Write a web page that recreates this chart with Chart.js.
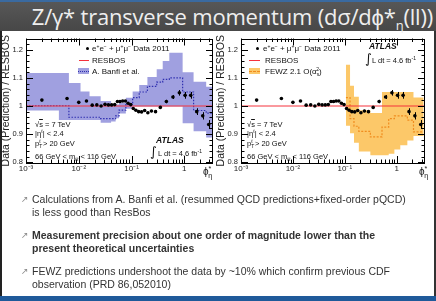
<!DOCTYPE html>
<html><head><meta charset="utf-8">
<script src="https://cdn.jsdelivr.net/npm/chart.js@4.4.1/dist/chart.umd.min.js"></script>
<style>
html,body{margin:0;padding:0;}
body{width:436px;height:301px;position:relative;overflow:hidden;background:#fff;font-family:"Liberation Sans",Arial,sans-serif;color:#111;}
#titlebar{position:absolute;left:0;top:0;width:436px;height:31px;background:linear-gradient(#575757,#474747);border-top:2px solid #3a6aa0;box-sizing:border-box;}
#title{position:absolute;right:3px;top:-1px;font-family:"Open Sans",sans-serif;font-size:22px;color:#eeeeee;white-space:nowrap;letter-spacing:-0.2px;}
#title sub{font-size:13px;vertical-align:-5px;}
.edgeL{position:absolute;left:0;top:31px;width:2px;height:270px;background:#222;}
.edgeR{position:absolute;right:0;top:31px;width:2px;height:270px;background:#333;}
.bottombar{position:absolute;left:0;top:296px;width:436px;height:5px;background:#1f5a9a;}
canvas{position:absolute;}
.t{position:absolute;font-size:7.5px;line-height:9px;white-space:nowrap;color:#111;}
.lg{font-size:8px;}
.t sup{font-size:5px;vertical-align:3px;line-height:0;}
.t sub{font-size:5px;vertical-align:-2px;line-height:0;}
.atlas{position:absolute;font-size:8.5px;font-weight:bold;font-style:italic;line-height:10px;}
.int{position:absolute;font-size:13px;line-height:13px;font-family:"DejaVu Sans",sans-serif;}
.dot{position:absolute;width:3.4px;height:3.4px;border-radius:50%;background:#000;}
.rline{position:absolute;height:1px;background:rgb(245,50,60);}
.box{position:absolute;height:6px;}
.box div{position:absolute;left:0;right:0;top:2.5px;border-top:1px dotted;}
.axl{position:absolute;font-size:10px;line-height:10px;}
.axl sup{font-size:7px;vertical-align:4px;line-height:0;}
.axl sub{font-size:7px;vertical-align:-3px;line-height:0;margin-left:-3px;}
.b{position:absolute;left:32px;font-size:10.5px;line-height:13px;color:#333;white-space:nowrap;}
.arr{position:absolute;left:21px;font-size:9px;color:#8a8a8a;font-family:"DejaVu Sans",sans-serif;}
</style></head>
<body>
<div id="titlebar"><div id="title">Z/γ* transverse momentum (dσ/dϕ*<sub>η</sub>(ll))</div></div>
<div class="edgeL"></div><div class="edgeR"></div><div class="bottombar"></div>

<canvas id="c1" width="218" height="150" style="left:0px;top:31px;width:218px;height:150px"></canvas>
<canvas id="c2" width="218" height="150" style="left:215px;top:31px;width:218px;height:150px"></canvas>

<!-- left plot overlays -->
<div class="dot" style="left:86px;top:46.5px"></div>
<div class="t lg" style="left:92px;top:44px">e<sup>+</sup>e<sup>−</sup> + μ<sup>+</sup>μ<sup>−</sup> Data 2011</div>
<div class="rline" style="left:79px;width:10px;top:60px"></div>
<div class="t lg" style="left:92px;top:55.5px">RESBOS</div>
<div class="box" style="left:78px;width:11px;top:68px;background:rgb(160,160,224)"><div style="border-color:#3030b0"></div></div>
<div class="t lg" style="left:92px;top:66.5px">A. Banfi et al.</div>
<div class="t" style="left:35px;top:120px">√<span style="text-decoration:overline">s</span> = 7 TeV</div>
<div class="t" style="left:35px;top:129px">|η<sup>ℓ</sup>| &lt; 2.4</div>
<div class="t" style="left:35px;top:139px">p<sub>T</sub><sup style="margin-left:-3px">ℓ</sup> &gt; 20 GeV</div>
<div class="t" style="left:35px;top:152px">66 GeV &lt; m<sub>ℓℓ</sub> &lt; 116 GeV</div>
<div class="atlas" style="left:156px;top:135px">ATLAS</div>
<div class="int" style="left:150px;top:145px">∫</div>
<div class="t" style="left:158px;top:149px">L dt = 4.6 fb<sup>-1</sup></div>
<div class="axl" style="left:203px;top:167px">ϕ<sup>*</sup><sub>η</sub></div>

<!-- right plot overlays -->
<div class="dot" style="left:256px;top:46.5px"></div>
<div class="t lg" style="left:263px;top:44px">e<sup>+</sup>e<sup>−</sup> + μ<sup>+</sup>μ<sup>−</sup> Data 2011</div>
<div class="rline" style="left:249px;width:11px;top:60px"></div>
<div class="t lg" style="left:265px;top:55.5px">RESBOS</div>
<div class="box" style="left:249px;width:11px;top:68px;background:rgb(252,200,105)"><div style="border-color:#f08c1e;border-top-style:dashed"></div></div>
<div class="t lg" style="left:265px;top:66.5px">FEWZ 2.1 O(α<sub>s</sub><sup style="margin-left:-3px">2</sup>)</div>
<div class="t" style="left:247px;top:120px">√<span style="text-decoration:overline">s</span> = 7 TeV</div>
<div class="t" style="left:247px;top:129px">|η<sup>ℓ</sup>| &lt; 2.4</div>
<div class="t" style="left:247px;top:139px">p<sub>T</sub><sup style="margin-left:-3px">ℓ</sup> &gt; 20 GeV</div>
<div class="t" style="left:247px;top:152px">66 GeV &lt; m<sub>ℓℓ</sub> &lt; 116 GeV</div>
<div class="atlas" style="left:369px;top:41px">ATLAS</div>
<div class="int" style="left:365px;top:52px">∫</div>
<div class="t" style="left:372px;top:56px">L dt = 4.6 fb<sup>-1</sup></div>
<div class="axl" style="left:419px;top:167px">ϕ<sup>*</sup><sub>η</sub></div>

<!-- bullets -->
<div class="arr" style="top:194px">↗</div>
<div class="b" style="top:193px">Calculations from A. Banfi et al. (resummed QCD predictions+fixed-order pQCD)</div>
<div class="b" style="top:206px">is less good than ResBos</div>
<div class="arr" style="top:230px">↗</div>
<div class="b" style="top:229px;font-weight:bold">Measurement precision about one order of magnitude lower than the</div>
<div class="b" style="top:242px;font-weight:bold">present theoretical uncertainties</div>
<div class="arr" style="top:266px">↗</div>
<div class="b" style="top:265px">FEWZ predictions undershoot the data by ~10% which confirm previous CDF</div>
<div class="b" style="top:278px">observation (PRD 86,052010)</div>

<script>
// ---- data ----
const phiStar = [0.002,0.006,0.010,0.014,0.018,0.022,0.0265,0.0315,0.0365,0.042,0.048,0.054,0.0605,0.068,0.0765,0.086,0.0965,0.108,0.121,0.1365,0.155,0.177,0.204,0.2385,0.285,0.3515,0.4575,0.6095,0.8065,1.0355,1.3245,1.7215,2.2345,2.8995];
const dataRatio = [1.021,1.027,1.013,1.018,1.003,1.004,1.000,1.006,1.004,1.004,1.005,1.016,1.016,1.018,1.018,1.010,1.005,0.991,0.985,0.980,0.979,0.984,0.976,0.982,0.980,0.995,1.016,1.032,1.047,1.038,1.038,0.980,0.965,0.934];
const dataErr = [0.003,0.003,0.003,0.003,0.003,0.003,0.003,0.003,0.003,0.003,0.003,0.003,0.003,0.003,0.003,0.003,0.003,0.003,0.003,0.003,0.003,0.004,0.004,0.004,0.005,0.005,0.006,0.007,0.010,0.012,0.012,0.012,0.013,0.016];

const banfiEdges = [0.001,0.0042,0.0065,0.0108,0.016,0.026,0.041,0.05,0.058,0.078,0.105,0.14,0.2,0.3,0.39,0.52,0.93,1.5,2.6,3.5];
const banfiHigh = [1.118,1.118,1.082,1.052,1.035,1.018,1.002,1.005,1.012,1.029,1.052,1.075,1.103,1.131,1.160,1.190,1.120,1.086,1.069];
const banfiLow  = [0.984,0.950,0.950,0.950,0.950,0.940,0.945,0.956,0.973,0.990,0.998,0.998,0.998,0.998,0.998,0.998,0.939,0.910,0.888];
const banfiMid  = [1.001,1.001,0.960,0.960,0.960,0.955,0.955,0.965,0.985,1.005,1.030,1.050,1.070,1.085,1.095,1.100,1.050,0.984,0.975];

const fewzEdges = [0.105,0.126,0.15,0.186,0.31,0.52,0.7,0.9,1.17,1.6,2.1,3.3];
const fewzHigh = [1.147,1.072,1.033,0.985,0.975,1.050,1.050,1.050,1.050,1.050,1.030];
const fewzLow  = [0.930,0.903,0.869,0.838,0.825,0.825,0.830,0.845,0.860,0.877,0.893];
const fewzMid  = [1.030,0.955,0.928,0.910,0.890,0.925,0.955,0.965,0.965,0.950,0.908];

const resbosRatio = [1,1];
const xTickValues = [0.001,0.01,0.1,1];
const xTickLabels = ['10⁻³','10⁻²','10⁻¹','1'];
const yTickValues = [0.8,0.9,1.0,1.1,1.2];
const yTickLabels = ['0.8','0.9','1','1.1','1.2'];
const xRange = [0.001,3.5];
const yRange = [0.797,1.2405];

// ---- helpers ----
function steps(edges, vals){
  return edges.map((x,i)=>({x, y: vals[Math.min(i, vals.length-1)]}));
}

const atlasFrame = {
  id:'atlasFrame',
  afterDatasetsDraw(chart){
    const {ctx, chartArea:a, scales:{x,y}} = chart;
    ctx.save();
    ctx.strokeStyle='#000'; ctx.lineWidth=1;
    ctx.beginPath();
    phiStar.forEach((p,i)=>{
      const px = Math.round(x.getPixelForValue(p))+0.5;
      ctx.moveTo(px, y.getPixelForValue(dataRatio[i]-dataErr[i]));
      ctx.lineTo(px, y.getPixelForValue(dataRatio[i]+dataErr[i]));
    });
    ctx.stroke();
    ctx.strokeRect(Math.round(a.left)+0.5, Math.round(a.top)+0.5, Math.round(a.width)-1, Math.round(a.height)-1);
    ctx.beginPath();
    for(let d=Math.floor(Math.log10(x.min)); d<=Math.ceil(Math.log10(x.max)); d++){
      for(let k=1;k<=9;k++){
        const v = k*Math.pow(10,d);
        if(v < x.min*0.999 || v > x.max) continue;
        const px = Math.round(x.getPixelForValue(v))+0.5;
        const len = k===1 ? 7 : 3.5;
        ctx.moveTo(px, a.bottom); ctx.lineTo(px, a.bottom-len);
        ctx.moveTo(px, a.top); ctx.lineTo(px, a.top+len);
      }
    }
    for(let i=0;i<=25;i++){
      const v = 0.8 + i*0.02;
      if(v > y.max) break;
      const py = Math.round(y.getPixelForValue(v))+0.5;
      const len = (i%5===0) ? 7 : 3.5;
      ctx.moveTo(a.left, py); ctx.lineTo(a.left+len, py);
      ctx.moveTo(a.right, py); ctx.lineTo(a.right-len, py);
    }
    ctx.stroke();
    ctx.restore();
  }
};

function makeChart(id, edges, low, high, mid, fillColor, midColor, midDash, padRight){
  return new Chart(document.getElementById(id), {
    type:'line',
    data:{datasets:[
      {data: phiStar.map((x,i)=>({x, y:dataRatio[i]})), showLine:false, pointRadius:1.8, pointBackgroundColor:'#000', pointBorderColor:'#000', pointBorderWidth:0, order:0},
      {data: xRange.map((x,i)=>({x, y:resbosRatio[i]})), borderColor:'rgb(245,50,60)', backgroundColor:'rgb(245,50,60)', borderWidth:1, pointRadius:0, fill:false, order:1},
      {data: steps(edges, mid), stepped:'before', borderColor:midColor, borderWidth:1.2, borderDash:midDash, pointRadius:0, fill:false, order:2},
      {data: steps(edges, high), stepped:'before', borderColor:'rgba(0,0,0,0)', borderWidth:0, pointRadius:0, backgroundColor:fillColor, fill:'+1', order:3},
      {data: steps(edges, low), stepped:'before', borderColor:'rgba(0,0,0,0)', borderWidth:0, pointRadius:0, fill:false, order:4}
    ]},
    options:{
      responsive:false, animation:false, devicePixelRatio:1,
      layout:{padding:{top:2,right:padRight,bottom:0,left:0}},
      plugins:{legend:{display:false}, tooltip:{enabled:false}},
      scales:{
        x:{type:'logarithmic', min:xRange[0], max:xRange[1],
           afterBuildTicks:s=>{s.ticks = xTickValues.map(v=>({value:v}));},
           afterFit:s=>{s.height=18;},
           ticks:{callback:(v,i)=>xTickLabels[i], font:{size:8,family:'"Liberation Sans", Arial'}, color:'#222', padding:1, maxRotation:0, autoSkip:false},
           grid:{display:false, drawTicks:false}, border:{display:false}},
        y:{type:'linear', min:yRange[0], max:yRange[1],
           afterBuildTicks:s=>{s.ticks = yTickValues.map(v=>({value:v}));},
           afterFit:s=>{s.width=26;},
           ticks:{callback:(v,i)=>yTickLabels[i], font:{size:7.5,family:'"Liberation Sans", Arial'}, color:'#222', padding:3},
           title:{display:true, text:'Data (Prediction) / RESBOS', font:{size:10.5,family:'"Liberation Sans", Arial'}, color:'#222', padding:{top:0,bottom:0}},
           grid:{display:false, drawTicks:false}, border:{display:false}}
      }
    },
    plugins:[atlasFrame]
  });
}

makeChart('c1', banfiEdges, banfiLow, banfiHigh, banfiMid, 'rgb(160,160,224)', '#3030b0', [1.5,1.5], 5);
makeChart('c2', fewzEdges, fewzLow, fewzHigh, fewzMid, 'rgb(252,200,105)', '#f08c1e', [2,1.5], 8);
</script>
</body></html>
